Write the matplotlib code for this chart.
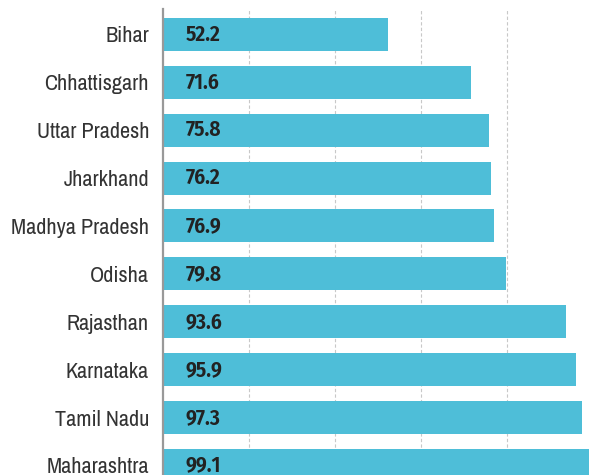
import matplotlib
matplotlib.use("Agg")
import matplotlib.pyplot as plt

states = ["Bihar", "Chhattisgarh", "Uttar Pradesh", "Jharkhand", "Madhya Pradesh",
          "Odisha", "Rajasthan", "Karnataka", "Tamil Nadu", "Maharashtra"]
values = [52.2, 71.6, 75.8, 76.2, 76.9, 79.8, 93.6, 95.9, 97.3, 99.1]
grid_ticks = [20, 40, 60, 80]

plt.rcParams['font.family'] = ["Archivo Narrow", 'DejaVu Sans']

fig = plt.figure(figsize=(5.91, 4.75), dpi=100)
ax = fig.add_axes([163/591, 0, 428/591, (475-9)/475])

ypos = list(range(len(states)))
ax.barh(ypos, values, height=0.69, color="#4EBED8", zorder=2)
for y, v in zip(ypos, values):
    ax.annotate(f"{v}", (0, y), xytext=(23, 0), textcoords="offset pixels",
                ha="left", va="center", fontsize=15.5, fontweight="semibold",
                family=["Fira Sans Condensed", "Roboto Condensed", "DejaVu Sans"],
                color="#222222", zorder=3)

ax.set_xlim(0, 99.5)
ax.set_ylim(9.2, -0.53)
ax.set_yticks(ypos)
ax.set_yticklabels(states, fontsize=16, color="#333333")
ax.set_xticks(grid_ticks)
ax.tick_params(axis="x", length=0, labelbottom=False)
ax.tick_params(axis="y", length=0, pad=10)
ax.grid(axis="x", color="#c8c8c8", linestyle=(0, (3, 2)), linewidth=0.8, zorder=1)
for s in ["top", "right", "bottom"]:
    ax.spines[s].set_visible(False)
ax.spines["left"].set_color("#999999")
ax.spines["left"].set_linewidth(1.6)
ax.spines["left"].set_zorder(4)

fig.savefig("out.png", dpi=100)
